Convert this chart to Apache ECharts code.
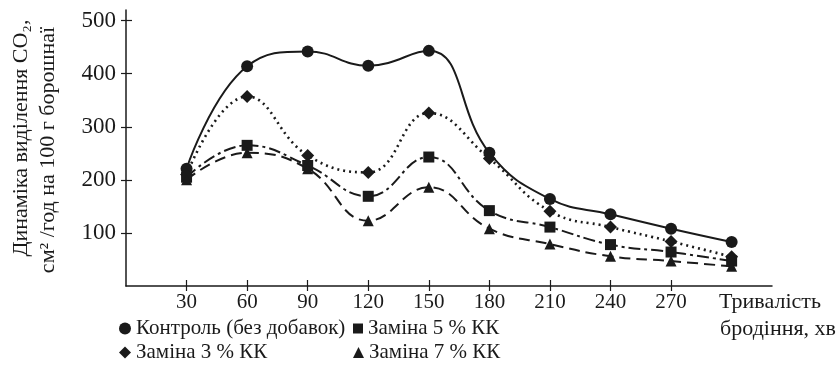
<!DOCTYPE html>
<html>
<head>
<meta charset="utf-8">
<script src="https://cdn.jsdelivr.net/npm/echarts@6/dist/echarts.min.js"></script>
<style>html,body{margin:0;padding:0;background:#fff}#c{width:838px;height:369px}</style>
</head>
<body>
<div id="c"></div>
<script>
const times = [30, 60, 90, 120, 150, 180, 210, 240, 270, 300];
const control = [221, 414, 442, 415, 443, 251, 164, 135, 108, 83];
const sub3 = [210, 357, 246, 214, 326, 240, 141, 111, 84, 55];
const sub5 = [205, 265, 227, 169, 243, 142, 111, 78, 64, 47];
const sub7 = [200, 251, 221, 123, 186, 108, 79, 56, 47, 37];
const seriesNames = ['Контроль (без добавок)', 'Заміна 3 % КК', 'Заміна 5 % КК', 'Заміна 7 % КК'];
const xTickLabels = [30, 60, 90, 120, 150, 180, 210, 240, 270];
const yTickLabels = [100, 200, 300, 400, 500];
const yTitle1 = 'Динаміка виділення CO₂,';
const yTitle2 = 'см² /год на 100 г борошнаї';
const xTitle1 = 'Тривалість';
const xTitle2 = 'бродіння, хв';

const FONT = '"Liberation Serif"';
const INK = '#1a1a1a';
const pairs = arr => times.map((t, i) => [t, arr[i]]);

const chart = echarts.init(document.getElementById('c'), null, {renderer: 'canvas'});

function mkLegend(name, icon, size, left, top) {
  return {
    data: [{name: name, icon: icon}],
    left: left, top: top, orient: 'horizontal',
    itemWidth: size, itemHeight: size, padding: 0,
    selectedMode: false,
    textStyle: {fontFamily: FONT, fontSize: 21, color: INK, fontStyle: 'normal', fontWeight: 'normal'}
  };
}

const xBase = {type: 'value', min: 0, max: 320, splitLine: {show: false}};
const yBase = {type: 'value', min: 0, max: 520, splitLine: {show: false}};

chart.setOption({
  animation: false,
  backgroundColor: '#fff',
  grid: {left: 126, right: 66, top: 10, bottom: 83},
  legend: [
    mkLegend(seriesNames[0], 'circle', 12, 119, 318),
    mkLegend(seriesNames[2], 'rect', 10, 353, 318),
    mkLegend(seriesNames[1], 'diamond', 12, 119, 342),
    mkLegend(seriesNames[3], 'triangle', 11, 353, 342)
  ],
  xAxis: [
    Object.assign({}, xBase, {
      axisLine: {lineStyle: {color: INK, width: 1.5}},
      axisTick: {show: true, inside: false, length: 5, customValues: xTickLabels, lineStyle: {color: INK, width: 1.2}},
      axisLabel: {customValues: xTickLabels, margin: 6, fontFamily: FONT, fontSize: 21, color: INK}
    }),
    Object.assign({}, xBase, {
      position: 'bottom', offset: 0,
      axisLine: {show: false},
      axisTick: {show: true, inside: true, length: 6, customValues: xTickLabels, lineStyle: {color: INK, width: 1.2}},
      axisLabel: {show: false}
    })
  ],
  yAxis: [
    Object.assign({}, yBase, {
      axisLine: {show: true, lineStyle: {color: INK, width: 1.5}},
      axisTick: {show: true, inside: false, length: 5, customValues: yTickLabels, lineStyle: {color: INK, width: 1.2}},
      axisLabel: {customValues: yTickLabels, margin: 10, fontFamily: FONT, fontSize: 23, color: INK}
    }),
    Object.assign({}, yBase, {
      position: 'left', offset: 0,
      axisLine: {show: false},
      axisTick: {show: true, inside: true, length: 6, customValues: yTickLabels, lineStyle: {color: INK, width: 1.2}},
      axisLabel: {show: false}
    })
  ],
  graphic: [
    {type: 'text', x: 21, y: 138, rotation: Math.PI / 2,
     style: {text: yTitle1, font: '22px "Liberation Serif"', fill: INK, align: 'center', verticalAlign: 'middle'}},
    {type: 'text', x: 48, y: 150, rotation: Math.PI / 2,
     style: {text: yTitle2, font: '22px "Liberation Serif"', fill: INK, align: 'center', verticalAlign: 'middle'}},
    {type: 'text', x: 719, y: 302,
     style: {text: xTitle1, font: '22px "Liberation Serif"', fill: INK, align: 'left', verticalAlign: 'middle'}},
    {type: 'text', x: 836, y: 329,
     style: {text: xTitle2, font: '22px "Liberation Serif"', fill: INK, align: 'right', verticalAlign: 'middle'}}
  ],
  series: [
    {name: seriesNames[0], type: 'line', data: pairs(control), smooth: 0.45,
     symbol: 'circle', symbolSize: 12, itemStyle: {color: INK},
     lineStyle: {color: INK, width: 2, type: 'solid'}},
    {name: seriesNames[1], type: 'line', data: pairs(sub3), smooth: 0.45,
     symbol: 'diamond', symbolSize: 13, itemStyle: {color: INK},
     lineStyle: {color: INK, width: 2.6, type: [2, 4]}},
    {name: seriesNames[2], type: 'line', data: pairs(sub5), smooth: 0.45,
     symbol: 'rect', symbolSize: 11, itemStyle: {color: INK},
     lineStyle: {color: INK, width: 2, type: [12, 4, 3, 4]}},
    {name: seriesNames[3], type: 'line', data: pairs(sub7), smooth: 0.45,
     symbol: 'triangle', symbolSize: 11, itemStyle: {color: INK},
     lineStyle: {color: INK, width: 2, type: [11, 6]}}
  ]
});
</script>
</body>
</html>
